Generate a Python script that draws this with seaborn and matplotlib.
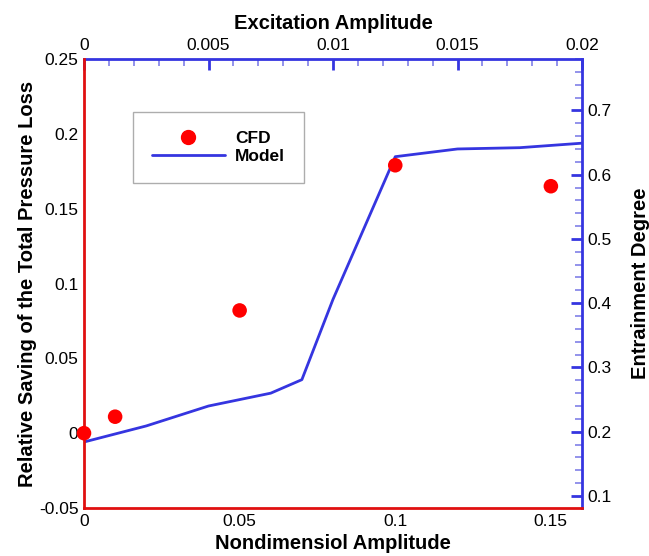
import matplotlib.pyplot as plt
import pandas as pd
import seaborn as sns
from matplotlib.lines import Line2D
from matplotlib.ticker import MultipleLocator

# CFD results: relative saving vs nondimensional amplitude (bottom / left axes)
cfd_amp = [0.0, 0.01, 0.05, 0.10, 0.15]
cfd_saving = [0.0, 0.011, 0.082, 0.179, 0.165]

# model curve: entrainment degree vs excitation amplitude (top / right axes)
model_exc = [0.0, 0.0025, 0.005, 0.0075, 0.00875, 0.01, 0.0125, 0.015, 0.0175, 0.02]
model_entr = [0.184, 0.209, 0.240, 0.260, 0.281, 0.406, 0.628, 0.640, 0.642, 0.649]

RED = '#e01010'
BLUE = '#3535e0'

sns.set_style('white')
plt.rcParams['font.family'] = ['Liberation Sans', 'DejaVu Sans']
plt.rcParams['text.color'] = 'black'
plt.rcParams['axes.labelcolor'] = 'black'

fig = plt.figure(figsize=(6.49, 5.56), dpi=100)
rect = [84 / 649, 1 - 508 / 556, 498 / 649, 449 / 556]
ax = fig.add_axes(rect)
ax2 = fig.add_axes(rect)
ax2.patch.set_visible(False)

df_cfd = pd.DataFrame({'amp': cfd_amp, 'saving': cfd_saving})
df_model = pd.DataFrame({'exc': model_exc, 'entr': model_entr})

sns.lineplot(data=df_model, x='exc', y='entr', ax=ax2, color=BLUE, lw=2, zorder=2)
sns.scatterplot(data=df_cfd, x='amp', y='saving', ax=ax, color='#ff0000',
                s=110, edgecolor='none', zorder=5, clip_on=False)

# bring CFD axes on top so markers sit over the line
ax.set_zorder(ax2.get_zorder() + 1)
ax.patch.set_visible(False)

ax.set_xlim(0, 0.16)
ax.set_ylim(-0.05, 0.25)
ax2.set_xlim(0, 0.02)
ax2.set_ylim(0.0813, 0.780)

ax.xaxis.set_major_locator(MultipleLocator(0.05))
ax.xaxis.set_minor_locator(MultipleLocator(0.01))
ax.yaxis.set_major_locator(MultipleLocator(0.05))
ax.yaxis.set_minor_locator(MultipleLocator(0.01))
ax2.xaxis.set_major_locator(MultipleLocator(0.005))
ax2.xaxis.set_minor_locator(MultipleLocator(0.001))
ax2.yaxis.set_major_locator(MultipleLocator(0.1))
ax2.yaxis.set_minor_locator(MultipleLocator(0.02))

for a in (ax, ax2):
    a.xaxis.set_major_formatter(lambda v, p: f'{v:g}')
    a.yaxis.set_major_formatter(lambda v, p: f'{v:g}')

ax2.xaxis.tick_top()
ax2.xaxis.set_label_position('top')
ax2.yaxis.tick_right()
ax2.yaxis.set_label_position('right')

for s in ('top', 'right'):
    ax.spines[s].set_visible(False)
for s in ('bottom', 'left'):
    ax2.spines[s].set_visible(False)
for s in ('bottom', 'left'):
    ax.spines[s].set_color(RED)
    ax.spines[s].set_linewidth(2)
for s in ('top', 'right'):
    ax2.spines[s].set_color(BLUE)
    ax2.spines[s].set_linewidth(2)

ax.tick_params(which='major', direction='in', length=8, width=2, color=RED,
               labelsize=12.5, labelcolor='black', pad=4)
ax.tick_params(which='minor', direction='in', length=5, width=1.2, color='#e87070')
ax2.tick_params(which='major', direction='in', length=8, width=2, color=BLUE,
                labelsize=12.5, labelcolor='black', pad=4)
ax2.tick_params(which='minor', direction='in', length=5, width=1.2, color='#8080e8')

lab = dict(fontsize=14.5, fontweight='bold', color='black')
ax.set_xlabel('Nondimensiol Amplitude', labelpad=4, **lab)
ax.set_ylabel('Relative Saving of the Total Pressure Loss', labelpad=1, **lab)
ax2.set_xlabel('Excitation Amplitude', labelpad=7, **lab)
ax2.set_ylabel('Entrainment Degree', labelpad=14, **lab)

handles = [
    Line2D([], [], marker='o', color='#ff0000', linestyle='none', markersize=10),
    Line2D([], [], color=BLUE, lw=2),
]
leg = ax.legend(handles, ['CFD', 'Model'], loc='upper left',
                bbox_to_anchor=(0.098, 0.882), borderaxespad=0,
                frameon=True, fancybox=False, handlelength=4.2,
                borderpad=1.1, labelspacing=0.15, handletextpad=0.6,
                prop={'weight': 'bold', 'size': 12.5})
leg.get_frame().set_edgecolor('#999999')
leg.get_frame().set_linewidth(1)

fig.savefig('out.png', dpi=100)
